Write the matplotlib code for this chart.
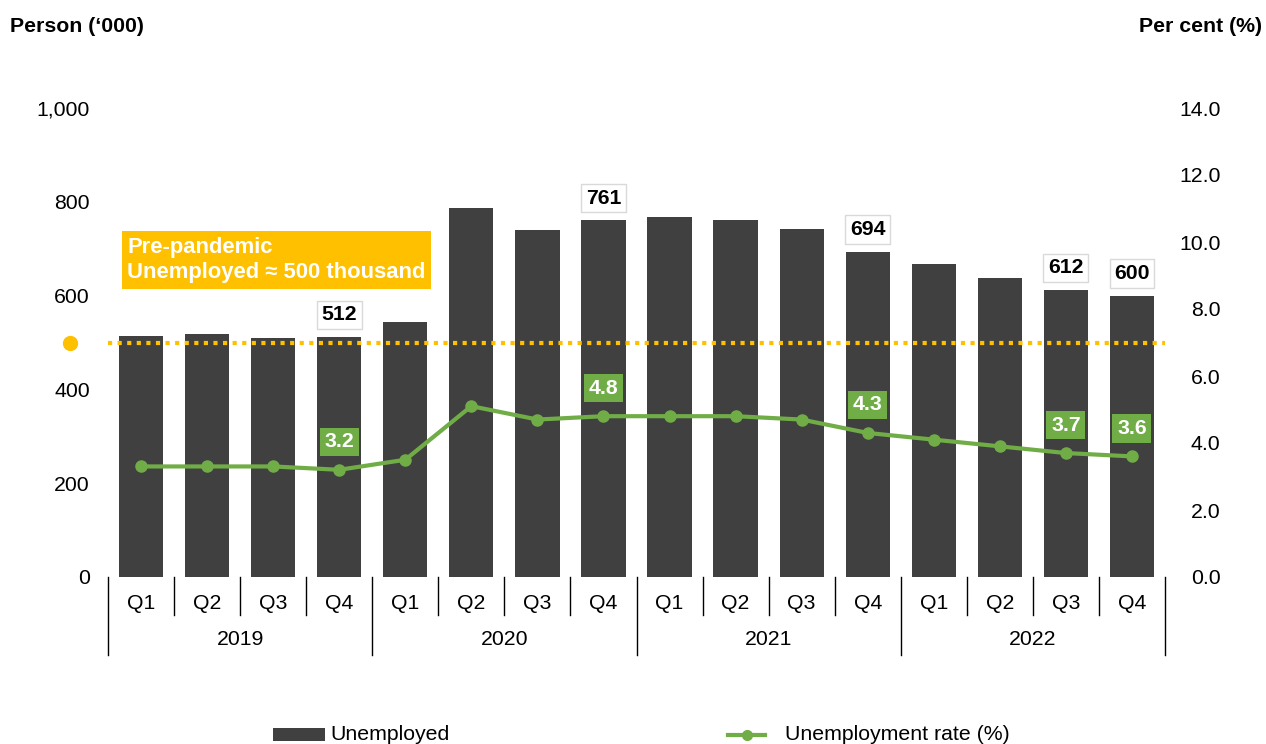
import matplotlib
matplotlib.use("Agg")
import matplotlib.pyplot as plt
import matplotlib.transforms as mtransforms
from matplotlib.patches import Rectangle
from matplotlib.lines import Line2D
import numpy as np

plt.rcParams['font.family'] = ['Liberation Sans', 'DejaVu Sans']

years = ["2019", "2020", "2021", "2022"]
quarters = ["Q1", "Q2", "Q3", "Q4"]
unemployed = [514, 518, 510, 512, 544, 787, 740, 761, 768, 761, 742, 694, 667, 638, 612, 600]
rate = [3.3, 3.3, 3.3, 3.2, 3.5, 5.1, 4.7, 4.8, 4.8, 4.8, 4.7, 4.3, 4.1, 3.9, 3.7, 3.6]
labelled = [3, 7, 11, 14, 15]
pre_pandemic = 500

BAR = "#404040"
GREEN = "#70AD47"
YELLOW = "#FFC000"
FS = 15.3

fig = plt.figure(figsize=(12.66, 7.44), dpi=100)
ax = fig.add_axes([108/1266, 1-577/744, 1057/1266, 469/744])
ax2 = ax.twinx()

n = len(unemployed)
x = np.arange(n)
ax.bar(x, unemployed, width=0.67, color=BAR, zorder=2)
ax.set_xlim(-0.5, n - 0.5)
ax.set_ylim(0, 1000)
ax.set_yticks(range(0, 1001, 200))
ax.set_yticklabels([f"{v:,}" for v in range(0, 1001, 200)])
ax.tick_params(axis='y', length=0, pad=13, labelsize=FS)
ax.set_xticks([])
for s in ax.spines.values():
    s.set_visible(False)

# pre-pandemic dotted line
ax.axhline(pre_pandemic, color=YELLOW, linestyle=(0, (1, 1.3)), linewidth=3, zorder=3)
trans = mtransforms.blended_transform_factory(ax.transAxes, ax.transData)
ax.plot([-0.036], [pre_pandemic], 'o', color=YELLOW, markersize=10, transform=trans, clip_on=False, zorder=4)

ax.text(0.018, 0.676, "Pre-pandemic\nUnemployed ≈ 500 thousand", transform=ax.transAxes,
        fontsize=15.8, fontweight='bold', color='white', ha='left', va='center', linespacing=1.3,
        bbox=dict(boxstyle='square,pad=0.25', fc=YELLOW, ec='none'), zorder=5)

# bar labels
for i in labelled:
    ax.annotate(f"{unemployed[i]}", (x[i], unemployed[i]), xytext=(0, 22), textcoords='offset pixels',
                ha='center', va='center', fontsize=FS, fontweight='bold', color='black',
                bbox=dict(boxstyle='square,pad=0.22', fc='white', ec='#d9d9d9', lw=1), zorder=6)

# rate line
ax2.plot(x, rate, color=GREEN, linewidth=3, marker='o', markersize=8, zorder=5)
ax2.set_ylim(0, 14)
ax2.set_yticks(np.arange(0, 14.1, 2))
ax2.set_yticklabels([f"{v:.1f}" for v in np.arange(0, 14.1, 2)])
for lab in ax2.get_yticklabels():
    lab.set_ha('right')
ax2.tick_params(axis='y', length=0, pad=40, labelsize=FS)
for s in ax2.spines.values():
    s.set_visible(False)
for i in labelled:
    ax2.annotate(f"{rate[i]:.1f}", (x[i], rate[i]), xytext=(0, 28), textcoords='offset pixels',
                 ha='center', va='center', fontsize=FS, fontweight='bold', color='white',
                 bbox=dict(boxstyle='square,pad=0.22', fc=GREEN, ec='none'), zorder=6)

# category axis
tb = mtransforms.blended_transform_factory(ax.transData, ax.transAxes)
for i in range(n + 1):
    b = i - 0.5
    y_end = -0.166 if i % 4 == 0 else -0.081
    ax.plot([b, b], [0, y_end], color='black', lw=1, transform=tb, clip_on=False)
for i in range(n):
    ax.text(x[i], -0.057, quarters[i % 4], transform=tb, ha='center', va='center', fontsize=FS)
for j, yr in enumerate(years):
    ax.text(j * 4 + 1.5, -0.134, yr, transform=tb, ha='center', va='center', fontsize=FS)

# axis titles
fig.text(10/1266, 1-26/744, "Person (‘000)", fontsize=FS, fontweight='bold', ha='left', va='center')
fig.text(1262/1266, 1-26/744, "Per cent (%)", fontsize=FS, fontweight='bold', ha='right', va='center')

# legend
ly = 1 - 735/744
fig.patches.append(Rectangle((273/1266, 1-741/744), 52/1266, 13/744, transform=fig.transFigure,
                             facecolor=BAR, edgecolor='none'))
fig.text(330/1266, ly, "Unemployed", fontsize=FS, ha='left', va='center')
fig.lines.append(Line2D([728/1266, 765/1266], [ly, ly], transform=fig.transFigure, color=GREEN, lw=3))
fig.lines.append(Line2D([746.5/1266], [ly], transform=fig.transFigure, color=GREEN, marker='o', markersize=7))
fig.text(785/1266, ly, "Unemployment rate (%)", fontsize=FS, ha='left', va='center')

fig.savefig("out.png", dpi=100)
